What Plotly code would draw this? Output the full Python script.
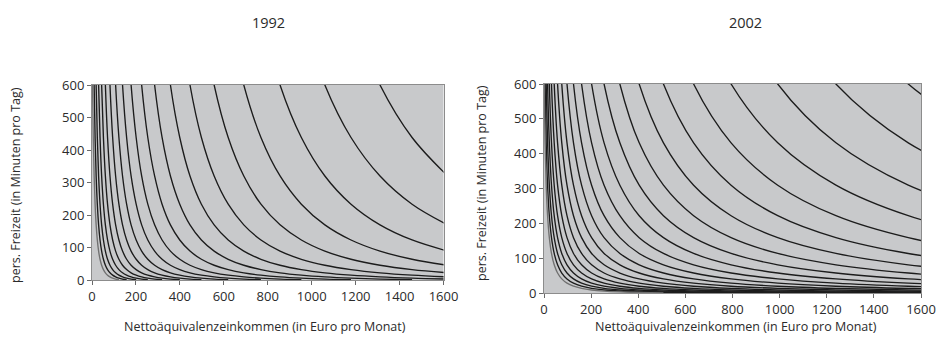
import plotly.graph_objects as go

# ---------------- data ----------------
# Indifference curves: for every curve, x positions (Euro) at shared freizeit levels (minutes).
levels_1992 = [820, 600, 438.5, 320.1, 233.3, 169.7, 123.1, 88.9, 63.8, 45.4, 32.0,
               22.1, 14.9, 9.56, 5.67, 2.82, 0.74]

curves_1992 = [
    [1179, 1311, 1457, 1619],
    [953, 1060, 1179, 1311, 1457, 1619],
    [769, 856, 953, 1060, 1179, 1311, 1457, 1619],
    [620, 691, 769, 856, 953, 1060, 1179, 1311, 1457, 1619],
    [498, 556, 620, 691, 769, 856, 953, 1060, 1179, 1311, 1457, 1619],
    [399.5, 446, 498, 556, 620, 691, 769, 856, 953, 1060, 1179, 1311, 1457, 1619],
    [319, 357, 399.5, 446, 498, 556, 620, 691, 769, 856, 953, 1060, 1179, 1311, 1457, 1619],
    [254, 285, 319, 357, 399.5, 446, 498, 556, 620, 691, 769, 856, 953, 1060, 1179, 1311, 1457],
    [201, 226, 254, 285, 319, 357, 399.5, 446, 498, 556, 620, 691, 769, 856, 953, 1060, 1179],
    [157.6, 178, 201, 226, 254, 285, 319, 357, 399.5, 446, 498, 556, 620, 691, 769, 856, 953],
    [122.5, 139, 157.6, 178, 201, 226, 254, 285, 319, 357, 399.5, 446, 498, 556, 620, 691, 769],
    [94, 107.5, 122.5, 139, 157.6, 178, 201, 226, 254, 285, 319, 357, 399.5, 446, 498, 556, 620],
    [70.8, 81.8, 94, 107.5, 122.5, 139, 157.6, 178, 201, 226, 254, 285, 319, 357, 399.5, 446, 498],
    [52.0, 60.9, 70.8, 81.8, 94, 107.5, 122.5, 139, 157.6, 178, 201, 226, 254, 285, 319, 357, 399.5],
    [36.6, 43.9, 52.0, 60.9, 70.8, 81.8, 94, 107.5, 122.5, 139, 157.6, 178, 201, 226, 254, 285, 319],
    [24.2, 30.1, 36.6, 43.9, 52.0, 60.9, 70.8, 81.8, 94, 107.5, 122.5, 139, 157.6, 178, 201, 226, 254],
    [14.1, 18.9, 24.2, 30.1, 36.6, 43.9, 52.0, 60.9, 70.8, 81.8, 94, 107.5, 122.5, 139, 157.6, 178, 201],
    [5.8, 9.7, 14.1, 18.9, 24.2, 30.1, 36.6, 43.9, 52.0, 60.9, 70.8, 81.8, 94, 107.5, 122.5, 139, 157.6],
    [None, 2.3, 5.8, 9.7, 14.1, 18.9, 24.2, 30.1, 36.6, 43.9, 52.0, 60.9, 70.8, 81.8, 94, 107.5, 122.5],
]

levels_2002 = [834.7, 600, 431.1, 309.5, 221.9, 158.9, 113.5, 80.9, 57.4, 40.5, 28.3,
               19.5, 13.2, 8.66, 5.39, 3.04, 1.35, 0.13]

curves_2002 = [
    [1239, 1546, 1928],
    [992, 1239, 1546, 1928],
    [794, 992, 1239, 1546, 1928],
    [635, 794, 992, 1239, 1546, 1928],
    [507, 635, 794, 992, 1239, 1546, 1928],
    [404, 507, 635, 794, 992, 1239, 1546, 1928],
    [322, 404, 507, 635, 794, 992, 1239, 1546, 1928],
    [255, 322, 404, 507, 635, 794, 992, 1239, 1546, 1928],
    [202, 255, 322, 404, 507, 635, 794, 992, 1239, 1546, 1928],
    [159.5, 202, 255, 322, 404, 507, 635, 794, 992, 1239, 1546, 1928],
    [125.2, 159.5, 202, 255, 322, 404, 507, 635, 794, 992, 1239, 1546, 1928],
    [97.6, 125.2, 159.5, 202, 255, 322, 404, 507, 635, 794, 992, 1239, 1546, 1928],
    [75.4, 97.6, 125.2, 159.5, 202, 255, 322, 404, 507, 635, 794, 992, 1239, 1546, 1928],
    [57.6, 75.4, 97.6, 125.2, 159.5, 202, 255, 322, 404, 507, 635, 794, 992, 1239, 1546, 1928],
    [43.3, 57.6, 75.4, 97.6, 125.2, 159.5, 202, 255, 322, 404, 507, 635, 794, 992, 1239, 1546, 1928],
    [31.8, 43.3, 57.6, 75.4, 97.6, 125.2, 159.5, 202, 255, 322, 404, 507, 635, 794, 992, 1239, 1546, 1928],
    [22.6, 31.8, 43.3, 57.6, 75.4, 97.6, 125.2, 159.5, 202, 255, 322, 404, 507, 635, 794, 992, 1239, 1546],
    [15.2, 22.6, 31.8, 43.3, 57.6, 75.4, 97.6, 125.2, 159.5, 202, 255, 322, 404, 507, 635, 794, 992, 1239],
    [9.3, 15.2, 22.6, 31.8, 43.3, 57.6, 75.4, 97.6, 125.2, 159.5, 202, 255, 322, 404, 507, 635, 794, 992],
    [4.5, 9.3, 15.2, 22.6, 31.8, 43.3, 57.6, 75.4, 97.6, 125.2, 159.5, 202, 255, 322, 404, 507, 635, 794],
    [0.7, 4.5, 9.3, 15.2, 22.6, 31.8, 43.3, 57.6, 75.4, 97.6, 125.2, 159.5, 202, 255, 322, 404, 507, 635],
    [None, 0.7, 4.5, 9.3, 15.2, 22.6, 31.8, 43.3, 57.6, 75.4, 97.6, 125.2, 159.5, 202, 255, 322, 404, 507],
]

panel_titles = ["1992", "2002"]
x_title = "Nettoäquivalenzeinkommen (in Euro pro Monat)"
y_title = "pers. Freizeit (in Minuten pro Tag)"
x_ticks = [0, 200, 400, 600, 800, 1000, 1200, 1400, 1600]
y_ticks = [0, 100, 200, 300, 400, 500, 600]

# ---------------- figure ----------------
W, H = 943, 342
FONT = "Open Sans"
TXT = "#2b2b2b"

fig = go.Figure()

def add_panel(curves, levels, xa, ya):
    n = len(curves)
    for i, xs in enumerate(curves):
        gray = (i == n - 1)
        fig.add_trace(go.Scatter(
            x=xs, y=levels[:len(xs)], mode="lines",
            line=dict(color="#707070" if gray else "#1c1c1c", width=1.35, shape="spline", smoothing=1.0),
            xaxis=xa, yaxis=ya, showlegend=False, hoverinfo="skip"))

add_panel(curves_1992, levels_1992, "x", "y")
add_panel(curves_2002, levels_2002, "x2", "y2")

def px_x(p):
    return p / W

def px_y(p):
    return (H - p) / H

axis_common = dict(showgrid=False, zeroline=False, showline=True, linecolor="#8c8c8c",
                   linewidth=1, mirror=True, ticks="outside", ticklen=4, tickcolor="#6a6a6a",
                   automargin=False, fixedrange=True,
                   tickfont=dict(family=FONT, size=13, color=TXT))

fig.update_layout(
    width=W, height=H, margin=dict(l=0, r=0, t=0, b=0, pad=0, autoexpand=False),
    paper_bgcolor="white", plot_bgcolor="#c8c9cb", hovermode=False,
    xaxis=dict(domain=[px_x(92), px_x(443.5)], range=[0, 1600], tickvals=x_ticks,
               anchor="y", **axis_common),
    yaxis=dict(domain=[px_y(280), px_y(85)], range=[0, 600], tickvals=y_ticks,
               anchor="x", **axis_common),
    xaxis2=dict(domain=[px_x(544), px_x(921)], range=[0, 1600], tickvals=x_ticks,
                anchor="y2", **axis_common),
    yaxis2=dict(domain=[px_y(293), px_y(84)], range=[0, 600], tickvals=y_ticks,
                anchor="x2", **axis_common),
)

def note(text, x, y, size, angle=0):
    return dict(text=text, x=px_x(x), y=px_y(y), xref="paper", yref="paper",
                xanchor="center", yanchor="middle", textangle=angle, showarrow=False,
                font=dict(family=FONT, size=size, color=TXT))

fig.update_layout(annotations=[
    note(panel_titles[0], 268, 22, 14.5),
    note(panel_titles[1], 745, 22, 14.5),
    note(x_title, 265, 326, 12.5),
    note(x_title, 736, 326, 12.5),
    note(y_title, 15, 185, 12.5, -90),
    note(y_title, 481, 183, 12.5, -90),
])

# remove the default page margin so the 943x342 figure fills the window exactly
page_fix = "document.body.style.margin='0';document.body.style.overflow='hidden';"
fig.write_html("out.html", post_script=page_fix, config={"displayModeBar": False, "staticPlot": True})
